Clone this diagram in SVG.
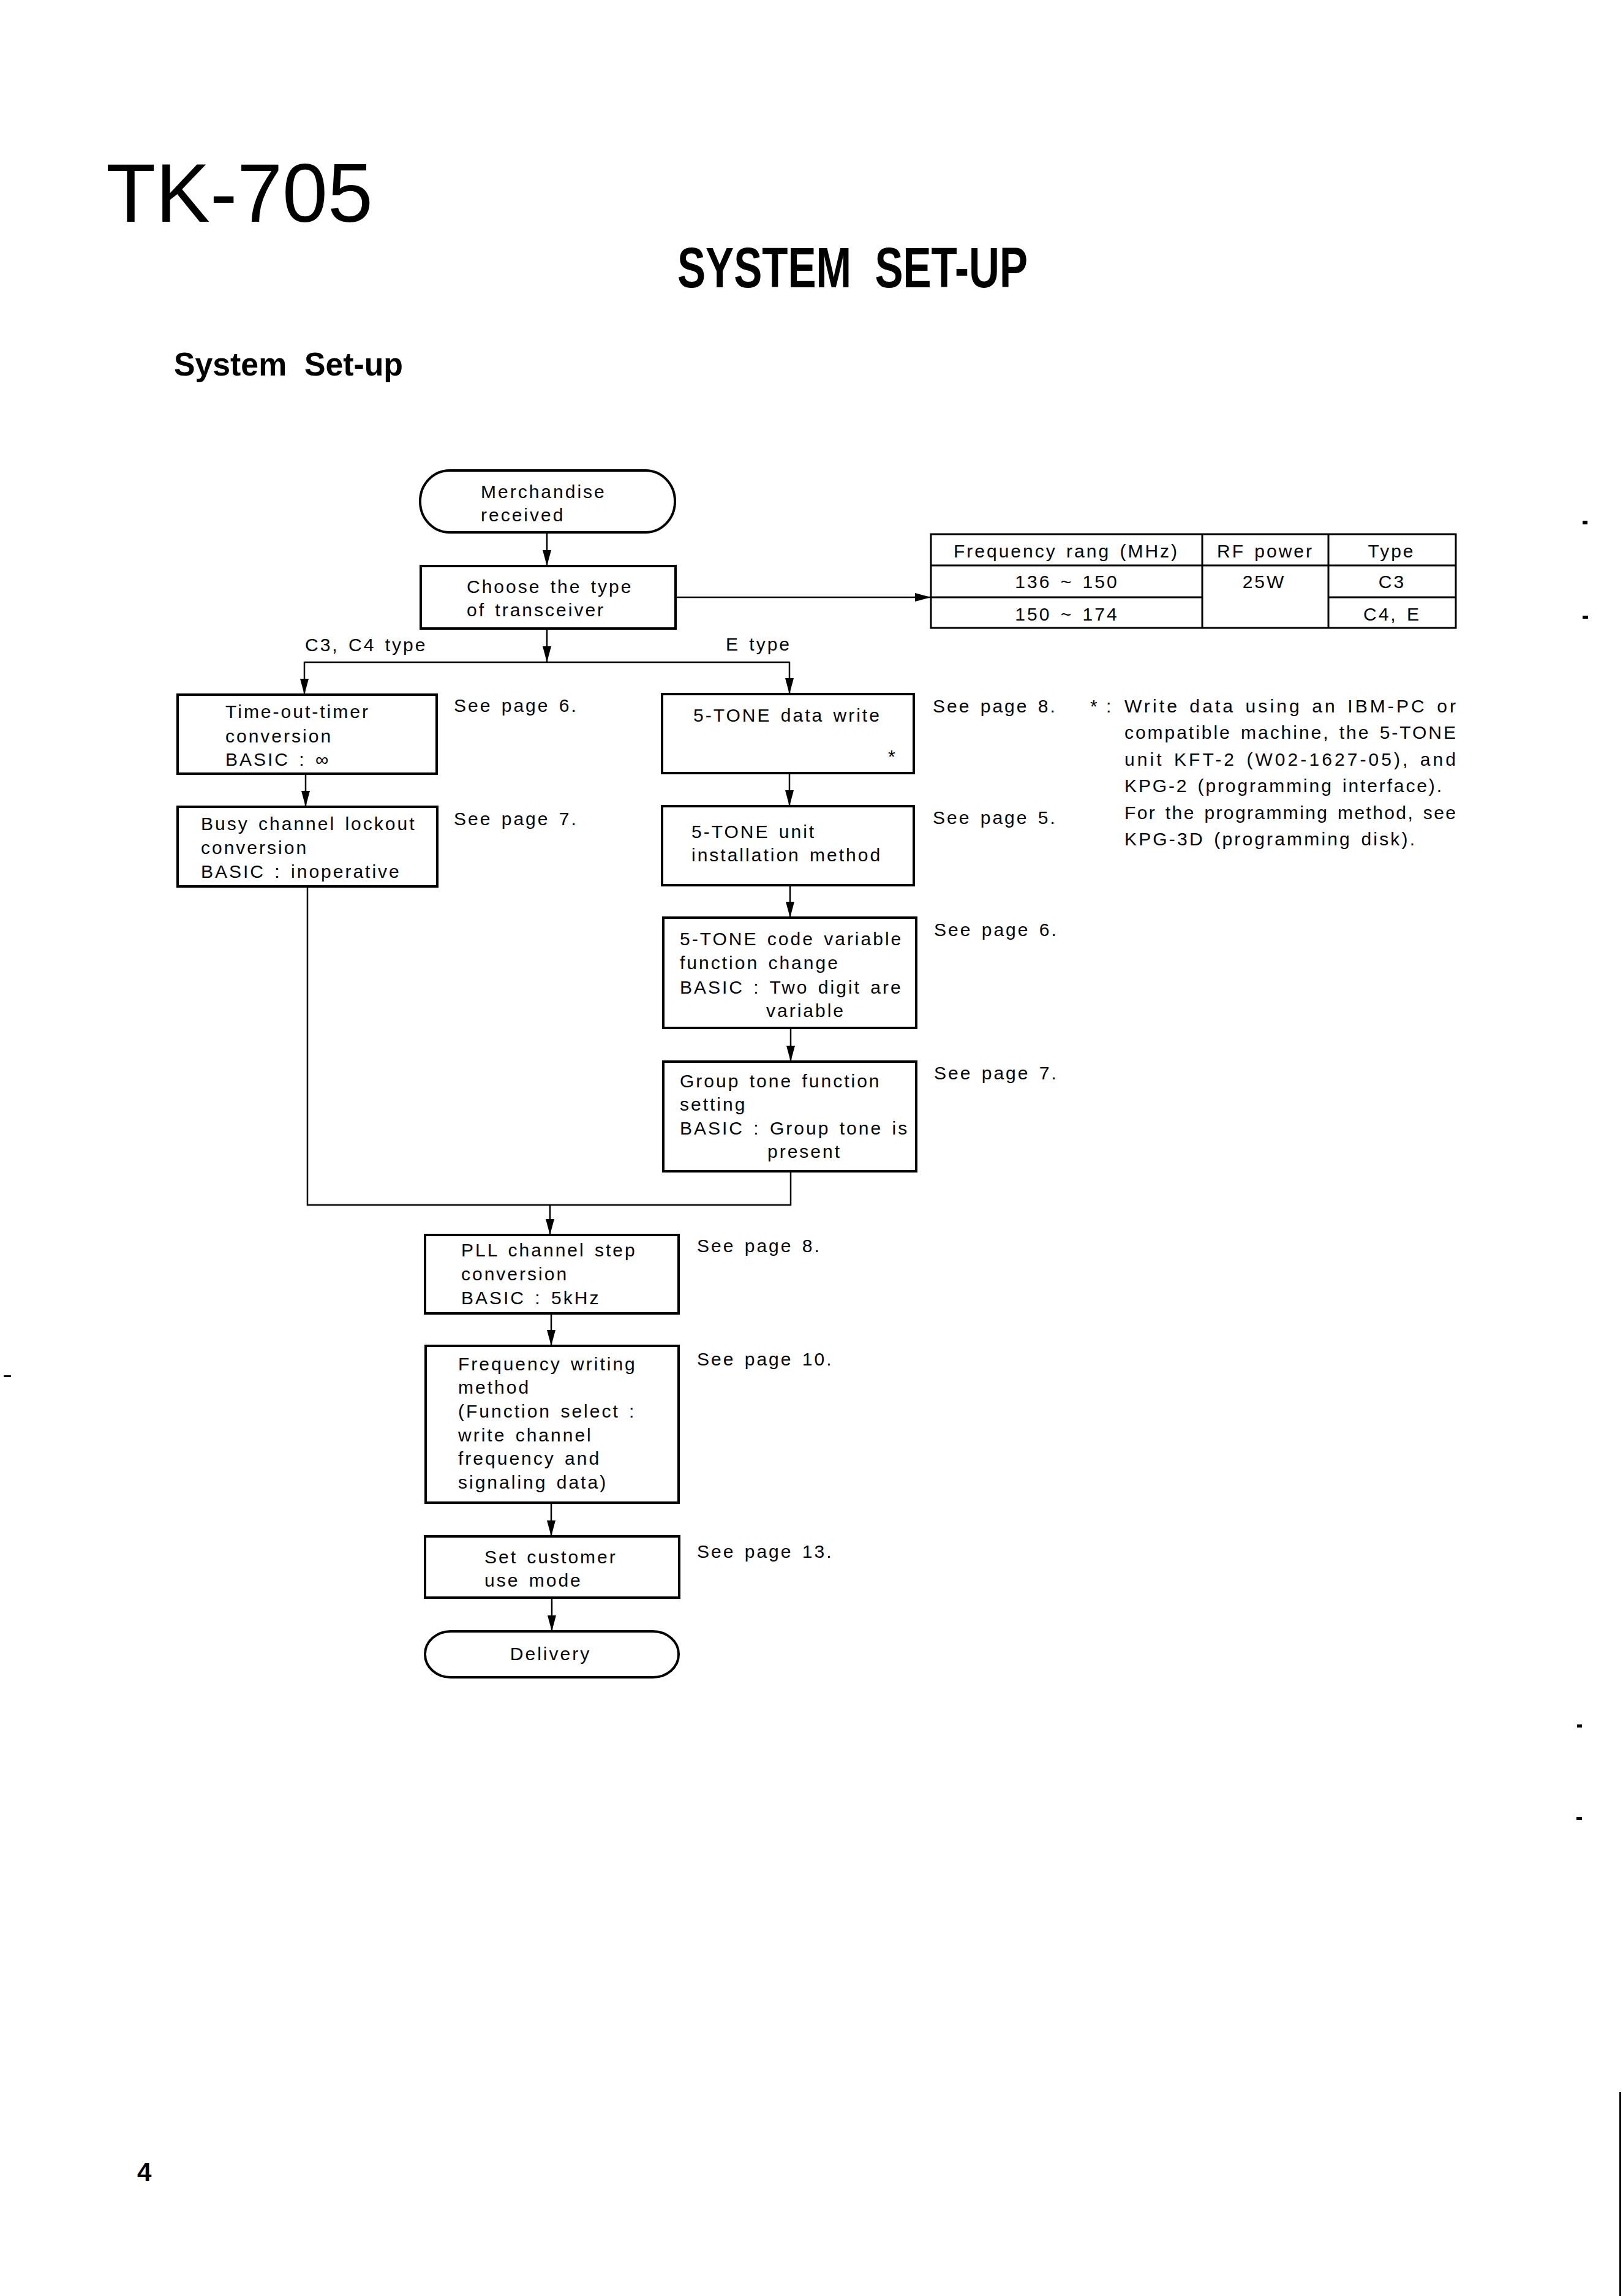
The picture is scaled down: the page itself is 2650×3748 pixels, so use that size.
<svg xmlns="http://www.w3.org/2000/svg" width="2650" height="3748" viewBox="0 0 2650 3748">
<defs>
<marker id="ah" markerUnits="userSpaceOnUse" markerWidth="26" markerHeight="14" refX="26" refY="7" orient="auto">
<path d="M0,0 L26,7 L0,14 z" fill="#000"/>
</marker>
</defs>
<style>
.t{font-family:"Liberation Sans",Arial,Helvetica,sans-serif;font-size:30px;letter-spacing:3px;word-spacing:4px;fill:#000}
.c{text-anchor:middle}
.box{fill:none;stroke:#000;stroke-width:4}
.ln{fill:none;stroke:#000;stroke-width:2.5}
.ar{fill:none;stroke:#000;stroke-width:2.5;marker-end:url(#ah)}
.tb{fill:none;stroke:#000;stroke-width:3}
.h{font-family:"Liberation Sans",Arial,Helvetica,sans-serif;fill:#000}
</style>
<rect width="2650" height="3748" fill="#fff"/>

<g id="titles">
<text class="h" x="173" y="362" font-size="135" textLength="436" lengthAdjust="spacingAndGlyphs">TK-705</text>
<text class="h" x="1106" y="469" font-size="92" font-weight="bold" xml:space="preserve" textLength="572" lengthAdjust="spacingAndGlyphs">SYSTEM  SET-UP</text>
<text class="h" x="284" y="613" font-size="53" font-weight="bold" xml:space="preserve" textLength="374" lengthAdjust="spacingAndGlyphs">System  Set-up</text>
<text class="h" x="224" y="3560" font-size="42" font-weight="bold">4</text>
</g>

<g id="connectors">
<line class="ar" x1="893" y1="869" x2="893" y2="924"/>
<line class="ar" x1="893" y1="1026" x2="893" y2="1081"/>
<line class="ln" x1="497" y1="1081" x2="1289" y2="1081"/>
<line class="ar" x1="497" y1="1080" x2="497" y2="1134"/>
<line class="ar" x1="1289" y1="1080" x2="1289" y2="1133"/>
<line class="ar" x1="1103" y1="975" x2="1520" y2="975"/>
<line class="ar" x1="499" y1="1263" x2="499" y2="1317"/>
<polyline class="ln" points="502,1447 502,1967 1291,1967 1291,1912"/>
<line class="ar" x1="1289" y1="1262" x2="1289" y2="1316"/>
<line class="ar" x1="1290" y1="1445" x2="1290" y2="1498"/>
<line class="ar" x1="1291" y1="1678" x2="1291" y2="1733"/>
<line class="ar" x1="898" y1="1967" x2="898" y2="2016"/>
<line class="ar" x1="900" y1="2144" x2="900" y2="2197"/>
<line class="ar" x1="900" y1="2453" x2="900" y2="2508"/>
<line class="ar" x1="901" y1="2608" x2="901" y2="2663"/>
<text class="t" x="498" y="1063">C3, C4 type</text>
<text class="t" x="1185" y="1062">E type</text>
</g>

<g id="n-merch">
<rect class="box" x="686" y="768" width="416" height="101" rx="48" ry="50"/>
<text class="t" x="785" y="813">Merchandise</text>
<text class="t" x="785" y="851">received</text>
</g>

<g id="n-choose">
<rect class="box" x="687" y="924" width="416" height="102"/>
<text class="t" x="762" y="968">Choose the type</text>
<text class="t" x="762" y="1006">of transceiver</text>
</g>

<g id="n-table">
<rect class="tb" x="1520" y="872" width="857" height="153"/>
<line class="tb" x1="1963" y1="872" x2="1963" y2="1025"/>
<line class="tb" x1="2169" y1="872" x2="2169" y2="1025"/>
<line class="tb" x1="1520" y1="923" x2="2377" y2="923"/>
<line class="tb" x1="1520" y1="975" x2="1963" y2="975"/>
<line class="tb" x1="2169" y1="975" x2="2377" y2="975"/>
<text class="t c" x="1741" y="910">Frequency rang (MHz)</text>
<text class="t c" x="2066" y="910">RF power</text>
<text class="t c" x="2272" y="910">Type</text>
<text class="t c" x="1742" y="960">136 ~ 150</text>
<text class="t c" x="2064" y="960">25W</text>
<text class="t c" x="2273" y="960">C3</text>
<text class="t c" x="1742" y="1013">150 ~ 174</text>
<text class="t c" x="2273" y="1013">C4, E</text>
</g>

<g id="n-timeout">
<rect class="box" x="290" y="1134" width="423" height="129"/>
<text class="t" x="368" y="1172">Time-out-timer</text>
<text class="t" x="368" y="1212">conversion</text>
<text class="t" x="368" y="1250">BASIC : ∞</text>
<text class="t" x="741" y="1162">See page 6.</text>
</g>

<g id="n-busy">
<rect class="box" x="290" y="1317" width="424" height="130"/>
<text class="t" x="328" y="1355">Busy channel lockout</text>
<text class="t" x="328" y="1394">conversion</text>
<text class="t" x="328" y="1433">BASIC : inoperative</text>
<text class="t" x="741" y="1347">See page 7.</text>
</g>

<g id="n-5tone-write">
<rect class="box" x="1081" y="1133" width="411" height="129"/>
<text class="t" x="1132" y="1178">5-TONE data write</text>
<text class="t" x="1450" y="1245">*</text>
<text class="t" x="1523" y="1163">See page 8.</text>
</g>

<g id="note">
<text class="t" x="1780" y="1163">*</text>
<text class="t" x="1806" y="1163">:</text>
<text class="t" x="1836" y="1163" textLength="544" lengthAdjust="spacing">Write data using an IBM-PC or</text>
<text class="t" x="1836" y="1206" textLength="544" lengthAdjust="spacing">compatible machine, the 5-TONE</text>
<text class="t" x="1836" y="1250" textLength="544" lengthAdjust="spacing">unit KFT-2 (W02-1627-05), and</text>
<text class="t" x="1836" y="1293" textLength="521" lengthAdjust="spacing">KPG-2 (programming interface).</text>
<text class="t" x="1836" y="1337" textLength="544" lengthAdjust="spacing">For the programming method, see</text>
<text class="t" x="1836" y="1380" textLength="477" lengthAdjust="spacing">KPG-3D (programming disk).</text>
</g>

<g id="n-5tone-unit">
<rect class="box" x="1081" y="1316" width="411" height="129"/>
<text class="t" x="1129" y="1368">5-TONE unit</text>
<text class="t" x="1129" y="1406">installation method</text>
<text class="t" x="1523" y="1345">See page 5.</text>
</g>

<g id="n-5tone-code">
<rect class="box" x="1083" y="1498" width="413" height="180"/>
<text class="t" x="1110" y="1543">5-TONE code variable</text>
<text class="t" x="1110" y="1582">function change</text>
<text class="t" x="1110" y="1622">BASIC : Two digit are</text>
<text class="t" x="1251" y="1660">variable</text>
<text class="t" x="1525" y="1528">See page 6.</text>
</g>

<g id="n-group">
<rect class="box" x="1083" y="1733" width="413" height="179"/>
<text class="t" x="1110" y="1775">Group tone function</text>
<text class="t" x="1110" y="1813">setting</text>
<text class="t" x="1110" y="1852">BASIC : Group tone is</text>
<text class="t" x="1253" y="1890">present</text>
<text class="t" x="1525" y="1762">See page 7.</text>
</g>

<g id="n-pll">
<rect class="box" x="694" y="2016" width="414" height="128"/>
<text class="t" x="753" y="2051">PLL channel step</text>
<text class="t" x="753" y="2090">conversion</text>
<text class="t" x="753" y="2129">BASIC : 5kHz</text>
<text class="t" x="1138" y="2044">See page 8.</text>
</g>

<g id="n-freq">
<rect class="box" x="695" y="2197" width="413" height="256"/>
<text class="t" x="748" y="2237">Frequency writing</text>
<text class="t" x="748" y="2275">method</text>
<text class="t" x="748" y="2314">(Function select :</text>
<text class="t" x="748" y="2353">write channel</text>
<text class="t" x="748" y="2391">frequency and</text>
<text class="t" x="748" y="2430">signaling data)</text>
<text class="t" x="1138" y="2229">See page 10.</text>
</g>

<g id="n-set">
<rect class="box" x="694" y="2508" width="415" height="100"/>
<text class="t" x="791" y="2552">Set customer</text>
<text class="t" x="791" y="2590">use mode</text>
<text class="t" x="1138" y="2543">See page 13.</text>
</g>

<g id="n-delivery">
<rect class="box" x="694" y="2663" width="414" height="75" rx="42" ry="37"/>
<text class="t c" x="899" y="2710">Delivery</text>
</g>

<g id="marks" fill="#000">
<rect x="2584" y="850" width="8" height="6"/>
<rect x="2584" y="1005" width="9" height="5"/>
<rect x="2575" y="2815" width="8" height="5"/>
<rect x="2574" y="2966" width="9" height="5"/>
<rect x="2644" y="3415" width="3" height="333"/>
<rect x="6" y="2245" width="12" height="3"/>
</g>
</svg>
